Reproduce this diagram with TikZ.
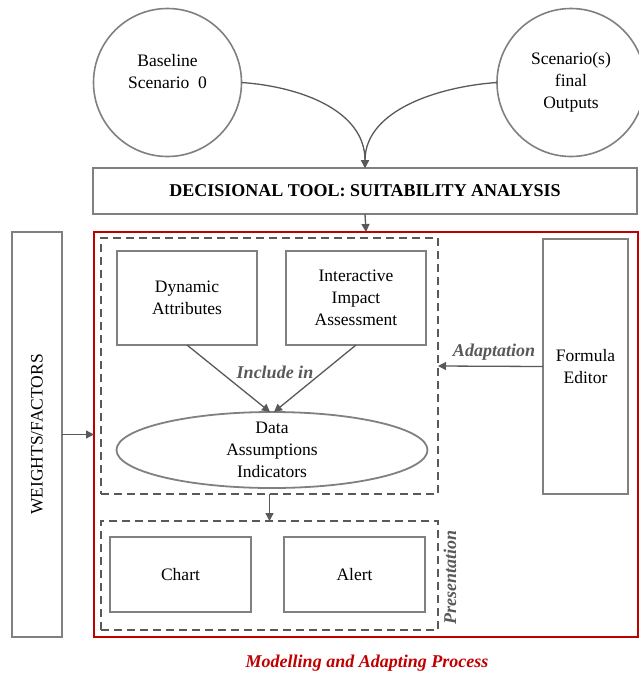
\documentclass[tikz,border=0pt]{standalone}
\usepackage{fontspec}
\setmainfont{Liberation Serif}
\usepackage{xcolor}
\usetikzlibrary{arrows.meta,positioning,calc,shapes.geometric}
\definecolor{boxgray}{RGB}{128,128,128}
\definecolor{linegray}{RGB}{89,89,89}
\definecolor{procred}{RGB}{192,0,0}

\begin{document}
\begin{tikzpicture}[
  x=1pt, y=-1pt,
  every node/.style={font=\fontsize{17.5}{22}\selectfont, outer sep=0pt, inner sep=2pt},
  scen/.style={draw=boxgray, line width=1.6pt, circle, minimum size=148pt, align=center},
  box/.style={draw=boxgray, line width=1.8pt, align=center},
  dashbox/.style={draw=linegray, line width=1.7pt, dash pattern=on 8pt off 5pt},
  tag/.style={text=linegray, font=\fontsize{18}{20}\selectfont\bfseries\itshape},
  flow/.style={-{Triangle[length=8pt,width=8pt]}, draw=linegray, line width=1.3pt},
]
  \useasboundingbox (0,0) rectangle (639,678);

  \node[scen] (base) at (167.5,82.5) {Baseline\\ Scenario\ \ 0\\ ~};
  \node[scen] (final) at (571,82.5) {Scenario(s)\\ final\\ Outputs};
  \node[box, minimum width=544pt, minimum height=46pt, font=\fontsize{18}{20}\selectfont\bfseries] (tool) at (365,191) {DECISIONAL TOOL: SUITABILITY ANALYSIS};

  \draw[flow] (base.east) .. controls +(58,4) and +(0,-58) .. (tool.north);
  \draw[flow] (final.west) .. controls +(-58,4) and +(0,-58) .. (tool.north);

  \node[draw=procred, line width=1.8pt, minimum width=544pt, minimum height=405pt] (process) at (366,434.5) {};
  \draw[flow] (tool.south) -- (process.north);

  \node[box, minimum width=50pt, minimum height=405pt] (weights) at (37,434.5) {};
  \node[rotate=90] at (weights.center) {WEIGHTS/FACTORS};
  \draw[flow] (weights.east) -- (process.west);

  \node[dashbox, minimum width=337pt, minimum height=256pt] (model) at (269.5,366) {};
  \node[box, minimum width=140pt, minimum height=94pt] (dyn) at (187,298) {Dynamic\\ Attributes};
  \node[box, minimum width=140pt, minimum height=94pt] (impact) at (356,298) {Interactive\\ Impact\\ Assessment};
  \node[box, ellipse, minimum width=311pt, minimum height=76pt] (data) at (272,450) {};
  \node[align=center] (datatext) at (data.center) {Data\\ Assumptions\\ Indicators};
  \draw[flow] (dyn.south) -- ([xshift=-2pt]data.north);
  \draw[flow] (impact.south) -- ([xshift=2pt]data.north);
  \node[tag] (incl) at (275,372) {Include in};

  \node[box, minimum width=85pt, minimum height=255pt] (formula) at (585.5,366.5) {Formula\\ Editor};
  \draw[flow] (formula.west) -- (model.east);
  \node[tag] (adapt) at (494,352) {Adaptation};

  \node[dashbox, minimum width=337pt, minimum height=109pt] (present) at (269.5,575.5) {};
  \draw[flow] (model.south) -- (present.north);
  \node[box, minimum width=141pt, minimum height=75pt] (chart) at (180.5,574.5) {Chart};
  \node[box, minimum width=141pt, minimum height=75pt] (alert) at (354.5,574.5) {Alert};
  \node[tag, rotate=90] (plabel) at (450,577) {Presentation};

  \node[tag, text=procred] (mlabel) at (367,663) {Modelling and Adapting Process};
\end{tikzpicture}
\end{document}
